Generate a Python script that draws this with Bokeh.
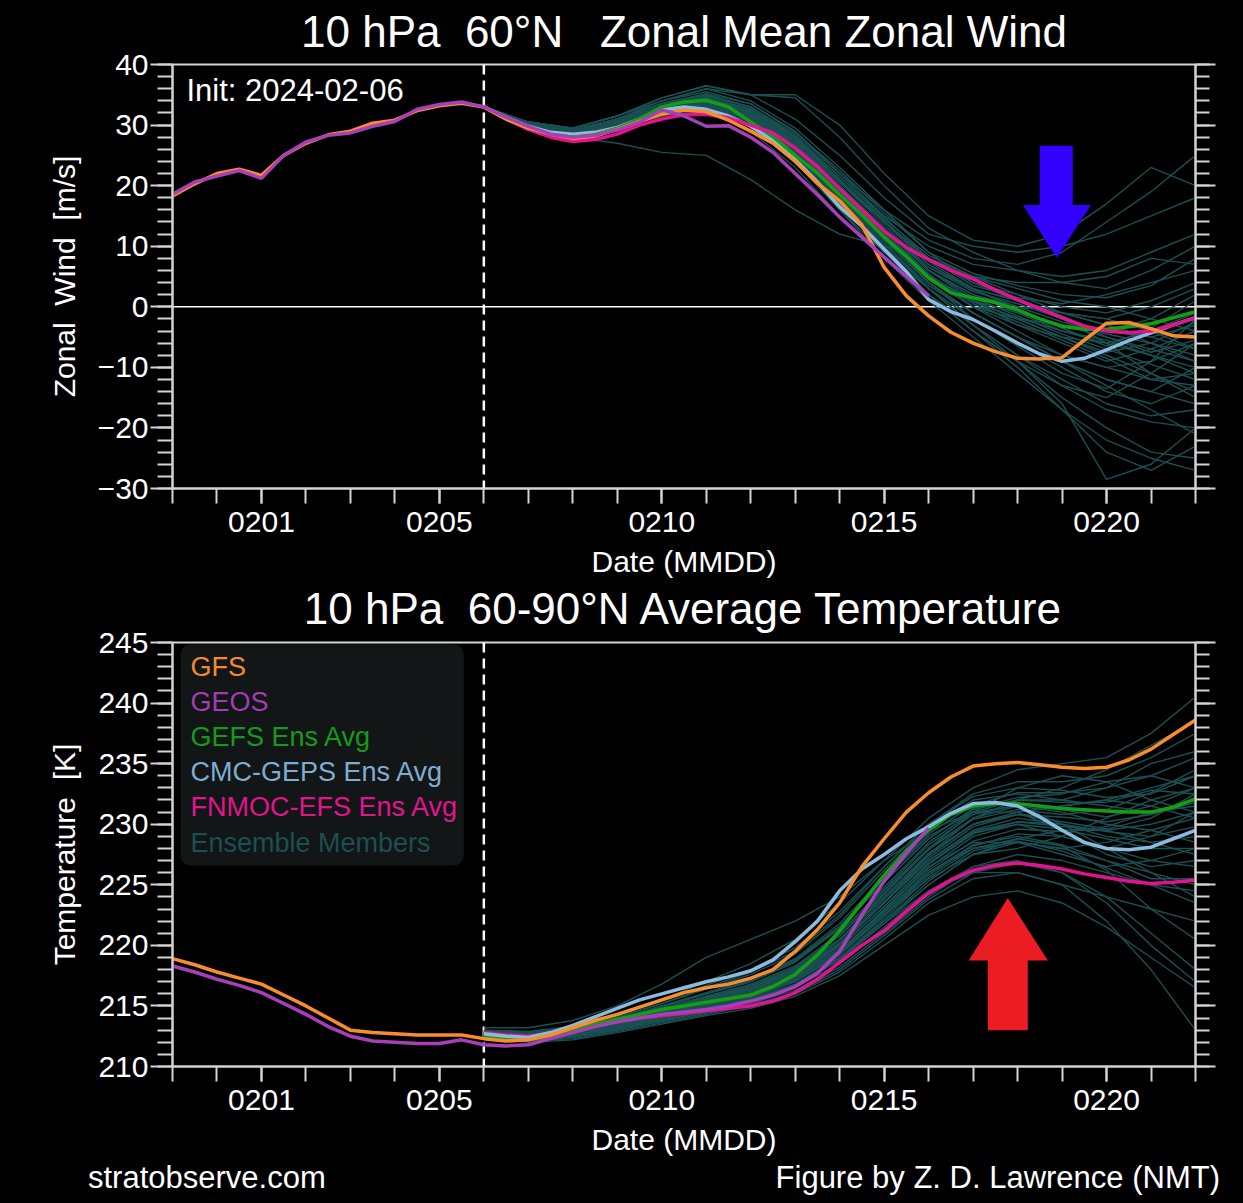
import numpy as np
from bokeh.plotting import figure
from bokeh.models import (Range1d, FixedTicker, LinearAxis, Span, Label, BoxAnnotation, PolyAnnotation,
                          InlineStyleSheet, Div)
from bokeh.layouts import column
from bokeh.embed import file_html
from bokeh.resources import INLINE

FONT = "Liberation Sans"
AXC = "#d4d4d4"
W = 1243
SHIFT = 6    # whole layout moved up so the top title can sit higher above its frame
SHIFT2 = 10  # lower panel (and footer) moved up further so its title can sit higher above its frame
ROOT_SHEET = InlineStyleSheet(css=":host { background-color: #000000 !important; transform: translateY(-%dpx); }" % SHIFT)
P1_SHEET = InlineStyleSheet(css=":host { background-color: #000000 !important; z-index: 2; }")
P2_SHEET = InlineStyleSheet(css=":host { background-color: #000000 !important; z-index: 1; transform: translateY(-%dpx); }" % SHIFT2)
FOOT_SHEET = InlineStyleSheet(css=":host { background-color: #000000 !important; transform: translateY(-%dpx); }" % SHIFT2)

# ---------------- time axis: days after 2024-02-01 (0130 = -2, 0222 = 21)
x_start, x_end = -2, 21
init_day = 5
tick_days = [0, 4, 9, 14, 19]
tick_labels = ["0201", "0205", "0210", "0215", "0220"]
day_ticks = list(range(-2, 22))
an_days = np.arange(-2, 5.01, 0.5)      # analysis, 12-hourly
fc_days = np.arange(5, 21.01, 0.5)      # forecast, 12-hourly
geos_days = np.arange(5, 15.01, 0.5)    # GEOS forecast ends 0216
mem_days = np.arange(5, 22, 1)          # ensemble members, daily

# ---------------- zonal wind [m/s]
gfs_w_an = [18.3, 20.3, 22.0, 22.7, 21.7, 25.0, 27.0, 28.4, 29.0, 30.3, 30.8, 32.4, 33.2, 33.6, 33.0]
geos_w_an = [18.6, 20.6, 21.6, 22.5, 21.2, 25.0, 27.2, 28.3, 28.7, 29.8, 30.6, 32.6, 33.4, 33.8, 33.0]
gfs_w = [33.0, 31.0, 29.5, 28.5, 27.8, 28.2, 29.3, 30.6, 31.8, 32.5, 32.2, 30.8, 29.0, 27.0, 24.0, 20.4,
         17.5, 13.5, 6.5, 1.8, -1.5, -4.2, -6.0, -7.4, -8.5, -8.6, -8.4, -5.5, -2.7, -2.6, -3.6, -4.8, -5.0]
geos_w = [33.0, 31.3, 29.8, 28.5, 28.0, 28.3, 29.2, 30.5, 32.5, 31.5, 29.8, 29.9, 28.0, 25.5, 22.0, 18.5,
          14.8, 11.5, 8.2, 5.0, 1.8]
gefs_w = [33.0, 31.0, 29.5, 28.5, 28.0, 28.4, 29.5, 31.0, 33.0, 33.8, 34.1, 33.0, 30.5, 28.1, 25.0, 22.1,
          18.5, 15.2, 11.5, 8.3, 4.8, 2.3, 1.5, 0.7, -0.5, -2.0, -3.2, -3.7, -3.7, -3.3, -2.8, -1.8, -0.8]
cmc_w = [33.0, 31.3, 29.8, 28.8, 28.5, 28.8, 29.6, 31.0, 32.5, 33.0, 32.6, 31.5, 29.8, 27.5, 24.3, 20.6,
         16.5, 13.3, 9.5, 5.8, 1.2, -0.8, -2.1, -4.0, -6.0, -7.8, -9.0, -8.5, -7.1, -5.6, -4.3, -3.0, -1.8]
fnmoc_w = [33.0, 31.0, 29.3, 28.0, 27.3, 27.6, 28.5, 30.0, 31.0, 31.7, 31.8, 31.2, 30.0, 28.7, 26.2, 23.1,
           19.5, 16.0, 12.5, 9.8, 7.8, 6.0, 4.6, 2.8, 1.2, -0.3, -1.8, -3.2, -4.0, -4.3, -4.0, -3.0, -1.8]
wind_members = [
    [33, 30.0, 28.5, 30.0, 32.5, 34.0, 32.0, 27.0, 20.0, 13.0, 6.0, 2.0, -1.0, -4.0, -6.0, -8.0, -10.0],
    [33, 30.5, 29.0, 31.0, 34.0, 36.0, 35.0, 31.0, 25.0, 18.0, 12.0, 10.0, 9.0, 10.0, 12.0, 15.0, 18.0],
    [33, 29.5, 28.0, 29.5, 31.5, 32.5, 29.0, 23.0, 15.0, 8.0, 2.0, -3.0, -8.0, -13.0, -17.0, -19.0, -20.0],
    [33, 30.0, 29.0, 30.5, 32.5, 33.5, 31.0, 25.0, 18.0, 11.0, 4.0, -2.0, -6.0, -10.0, -14.0, -16.0, -13.0],
    [33, 30.0, 29.0, 31.0, 33.5, 34.5, 32.5, 28.0, 21.0, 14.0, 8.0, 5.0, 3.0, 1.0, 0.0, -2.0, -4.0],
    [33, 29.5, 28.0, 27.0, 25.5, 25.0, 21.0, 16.0, 12.0, 10.0, 8.0, 5.0, 2.0, -1.0, -3.0, -5.0, -7.0],
    [33, 30.5, 29.5, 31.5, 34.5, 36.5, 35.0, 34.5, 28.0, 20.0, 13.0, 9.0, 6.0, 4.0, 3.0, 6.0, 10.0],
    [33, 30.0, 28.5, 30.0, 32.0, 33.0, 30.0, 24.0, 16.0, 8.0, 1.0, -5.0, -11.0, -17.0, -22.0, -25.0, -27.0],
    [33, 30.0, 29.0, 30.5, 33.0, 34.0, 31.5, 26.5, 19.5, 12.5, 5.5, 0.0, -4.0, -8.0, -10.0, -9.0, -6.0],
    [33, 29.5, 28.5, 29.5, 31.5, 33.0, 30.5, 25.0, 17.0, 9.0, 2.0, -4.0, -9.0, -15.0, -20.0, -24.0, -25.0],
    [33, 30.0, 29.0, 30.5, 33.0, 34.5, 32.5, 27.5, 21.0, 14.0, 7.0, 3.0, 1.0, -1.0, -2.0, 0.0, 3.0],
    [33, 30.0, 28.5, 29.5, 31.5, 33.0, 31.0, 26.0, 19.0, 12.0, 5.0, 1.0, -2.0, -5.0, -8.0, -11.0, -14.0],
    [33, 30.5, 29.5, 31.5, 34.0, 35.5, 33.5, 29.0, 22.0, 15.0, 10.0, 7.0, 6.0, 5.0, 6.0, 9.0, 12.0],
    [33, 29.5, 28.0, 29.0, 31.0, 32.5, 30.0, 24.5, 17.0, 10.0, 3.0, -3.0, -8.0, -12.0, -16.0, -18.0, -17.0],
    [33, 30.0, 29.0, 30.5, 33.0, 34.0, 31.5, 26.0, 19.0, 12.0, 4.0, -1.0, -5.0, -9.0, -12.0, -14.0, -16.0],
    [33, 30.0, 29.0, 30.0, 32.5, 33.5, 31.0, 26.0, 19.5, 13.0, 6.0, 1.0, -3.0, -5.0, -6.0, -4.0, -1.0],
    [33, 30.0, 28.5, 30.0, 32.0, 33.5, 31.0, 25.5, 18.0, 10.5, 3.5, -1.0, -5.0, -9.0, -13.0, -17.0, -21.0],
    [33, 30.5, 29.0, 31.0, 33.5, 35.0, 33.0, 28.0, 21.5, 14.5, 8.5, 5.0, 4.0, 4.0, 5.0, 8.0, 7.0],
    [33, 30.0, 29.0, 30.0, 32.0, 33.0, 30.5, 25.0, 18.0, 11.0, 5.0, 1.0, -1.0, -3.0, -5.0, -7.0, -9.0],
    [33, 29.5, 28.5, 29.5, 31.5, 33.0, 30.5, 25.0, 17.5, 9.5, 2.0, -4.0, -10.0, -17.0, -24.0, -27.0, -23.0],
    [33, 30.0, 29.0, 31.0, 33.5, 35.0, 33.0, 28.5, 22.0, 16.0, 11.0, 8.0, 7.0, 9.0, 14.0, 19.0, 25.0],
    [33, 30.0, 28.5, 29.5, 31.5, 33.0, 31.0, 26.0, 18.5, 11.0, 4.0, -1.0, -5.0, -8.0, -10.0, -12.0, -11.0],
    [33, 30.0, 29.0, 30.5, 32.5, 34.0, 32.0, 27.0, 20.0, 13.0, 6.0, 2.0, 0.0, -1.0, -2.0, -4.0, -7.0],
    [33, 30.5, 29.5, 31.5, 34.0, 36.0, 34.0, 29.5, 23.0, 16.0, 9.0, 4.0, 1.0, -1.0, -3.0, -6.0, -9.0],
    [33, 29.5, 28.0, 29.0, 31.0, 32.5, 30.0, 24.0, 16.0, 9.0, 3.0, -3.0, -9.0, -16.0, -28.5, -26.0, -20.0],
    [33, 30.0, 29.0, 30.5, 33.0, 34.5, 32.0, 27.0, 20.5, 14.0, 8.0, 4.0, 2.0, 0.0, -1.0, 1.0, 4.0],
    [33, 30.0, 28.5, 30.0, 32.0, 33.5, 31.5, 26.0, 18.5, 11.0, 4.0, -1.0, -5.0, -9.0, -12.0, -14.0, -10.0],
    [33, 30.0, 29.0, 30.5, 33.0, 34.5, 32.5, 27.5, 21.0, 14.0, 8.0, 4.0, 1.0, -2.0, -6.0, -11.0, -15.0],
    [33, 30.0, 29.0, 30.0, 32.5, 34.0, 31.5, 26.5, 19.5, 12.0, 5.0, 0.0, -2.0, -3.0, -4.0, -2.0, 2.0],
    [33, 30.0, 28.5, 29.5, 31.5, 33.0, 31.0, 25.5, 18.0, 10.0, 2.0, -4.0, -9.0, -13.0, -15.0, -11.0, -6.0],
    [33, 30.5, 29.5, 31.5, 34.5, 36.5, 35.0, 35.0, 30.0, 22.0, 15.0, 11.0, 10.0, 12.0, 17.0, 23.0, 20.0],
    [33, 30.2, 28.8, 30.2, 32.8, 34.2, 32.2, 27.2, 20.5, 13.5, 6.5, 2.5, 0.5, -2.0, -4.0, -5.0, -3.0],
    [33, 29.8, 28.3, 29.8, 32.0, 33.2, 31.0, 25.8, 18.8, 11.5, 4.5, 0.0, -3.0, -6.0, -9.0, -7.0, -4.0],
    [33, 30.3, 29.2, 30.8, 33.2, 34.8, 33.0, 28.2, 21.5, 14.8, 8.0, 3.5, 1.5, 0.5, 2.0, 4.0, 6.0],
    [33, 30.0, 28.7, 30.0, 32.3, 33.6, 31.4, 26.4, 19.2, 12.0, 5.0, 0.5, -2.5, -5.5, -8.5, -12.0, -13.0],
    [33, 30.1, 29.0, 30.6, 33.0, 34.3, 32.0, 27.0, 20.0, 13.0, 6.5, 3.0, 1.0, -1.5, -5.0, -7.5, -5.5],
    [33, 29.7, 28.4, 29.6, 31.8, 33.0, 30.6, 25.2, 17.8, 10.5, 3.0, -2.0, -6.5, -11.0, -13.5, -9.0, -2.0],
    [33, 30.4, 29.3, 31.0, 33.6, 35.2, 33.5, 28.8, 22.5, 15.5, 9.0, 5.5, 3.5, 2.0, 1.5, 3.5, 8.0],
    [33, 30.0, 28.9, 30.3, 32.6, 34.0, 31.8, 26.8, 19.8, 12.8, 6.0, 1.5, -1.5, -4.5, -7.0, -9.5, -12.0],
    [33, 30.2, 29.1, 30.7, 33.1, 34.6, 32.7, 27.8, 21.0, 14.2, 7.5, 3.0, -0.5, -3.5, -6.5, -3.5, 1.0],
    [33, 29.9, 28.6, 30.0, 32.2, 33.4, 31.2, 26.2, 19.0, 11.8, 4.8, 0.8, -1.8, -4.0, -5.5, -8.0, -11.0],
    [33, 30.3, 29.0, 30.5, 32.9, 34.4, 32.4, 27.5, 20.8, 14.0, 7.0, 2.8, 0.0, -2.5, -4.5, -6.0, -8.0],
    [33, 30.0, 28.8, 30.1, 32.4, 33.8, 31.6, 26.6, 19.6, 12.4, 5.2, 1.0, -2.0, -5.0, -7.5, -6.0, -2.5],
]

# ---------------- 60-90N temperature [K]
gfs_t_an = [218.9, 218.4, 217.8, 217.3, 216.8, 215.9, 215.0, 214.0, 213.0, 212.8, 212.7, 212.6, 212.6, 212.6, 212.3]
geos_t_an = [218.3, 217.8, 217.2, 216.7, 216.1, 215.2, 214.3, 213.3, 212.5, 212.1, 212.0, 211.9, 211.9, 212.2, 211.8]
gfs_t = [212.3, 212.1, 212.2, 212.6, 213.2, 213.8, 214.3, 214.9, 215.5, 216.1, 216.5, 216.8, 217.3, 218.0, 219.5, 221.3,
         223.5, 226.5, 228.8, 231.0, 232.6, 233.9, 234.8, 235.0, 235.1, 234.9, 234.7, 234.6, 234.7, 235.3, 236.2, 237.4, 238.6]
geos_t = [211.9, 211.7, 211.8, 212.3, 212.8, 213.3, 213.7, 214.0, 214.3, 214.5, 214.7, 215.0, 215.4, 215.9, 216.6, 217.7,
          219.5, 222.5, 225.3, 227.6, 229.7]
gefs_t = [212.5, 212.3, 212.2, 212.5, 213.0, 213.5, 213.9, 214.3, 214.7, 215.0, 215.3, 215.6, 215.9, 216.6, 217.6, 219.2,
          221.2, 223.5, 225.8, 227.8, 229.5, 230.8, 231.5, 231.7, 231.7, 231.5, 231.3, 231.2, 231.1, 231.0, 231.0, 231.4, 232.1]
cmc_t = [212.7, 212.5, 212.4, 212.8, 213.4, 214.1, 214.8, 215.5, 216.0, 216.5, 217.0, 217.4, 217.9, 218.8, 220.3, 222.0,
         224.5, 226.3, 227.5, 228.8, 229.8, 230.9, 231.7, 231.8, 231.5, 230.6, 229.5, 228.5, 228.0, 227.9, 228.1, 228.8, 229.5]
fnmoc_t = [212.8, 212.6, 212.5, 212.7, 213.0, 213.4, 213.7, 214.0, 214.2, 214.4, 214.6, 214.8, 215.0, 215.4, 216.1, 217.2,
           218.6, 220.0, 221.2, 222.8, 224.3, 225.4, 226.2, 226.6, 226.8, 226.6, 226.3, 225.9, 225.6, 225.3, 225.1, 225.2, 225.4]
temp_members = [
    [212.8, 212.6, 212.9, 213.6, 214.5, 215.5, 216.5, 218.0, 220.5, 224.0, 227.5, 230.0, 231.0, 231.5, 232.0, 233.0, 234.0],
    [212.5, 212.2, 212.4, 213.0, 213.8, 214.6, 215.3, 216.5, 218.5, 221.5, 224.5, 226.0, 226.0, 225.0, 224.0, 223.0, 222.0],
    [213.0, 212.8, 213.2, 214.0, 215.2, 216.5, 217.8, 219.5, 222.5, 226.5, 230.0, 232.5, 233.5, 233.5, 234.0, 235.5, 237.5],
    [212.6, 212.3, 212.5, 213.2, 214.0, 214.8, 215.5, 216.8, 219.0, 222.0, 225.0, 227.5, 228.5, 228.0, 227.0, 226.0, 225.0],
    [212.7, 212.5, 212.8, 213.5, 214.5, 215.4, 216.3, 217.8, 220.2, 223.5, 227.0, 229.5, 230.5, 230.0, 229.0, 228.5, 229.0],
    [212.4, 212.0, 212.2, 212.8, 213.5, 214.2, 214.8, 215.8, 217.5, 220.0, 222.5, 224.0, 224.5, 223.5, 221.5, 219.0, 216.5],
    [212.9, 212.8, 213.3, 214.2, 215.5, 217.0, 218.5, 220.5, 223.5, 227.0, 230.5, 233.0, 234.5, 235.0, 235.5, 237.5, 240.5],
    [212.6, 212.4, 212.6, 213.3, 214.2, 215.0, 215.8, 217.0, 219.5, 223.0, 226.5, 228.5, 228.5, 227.5, 226.5, 227.0, 228.0],
    [212.8, 212.7, 213.0, 213.8, 214.8, 215.8, 216.8, 218.3, 221.0, 224.8, 228.5, 231.0, 232.0, 232.0, 231.5, 231.0, 231.5],
    [212.5, 212.3, 212.5, 213.1, 213.9, 214.7, 215.4, 216.6, 218.8, 221.8, 224.5, 226.5, 227.0, 226.0, 224.0, 221.0, 218.0],
    [213.2, 213.2, 213.8, 215.0, 216.8, 219.0, 220.5, 222.0, 224.0, 227.0, 229.5, 231.0, 231.5, 230.0, 228.0, 226.0, 224.0],
    [212.7, 212.5, 212.8, 213.4, 214.3, 215.2, 216.0, 217.5, 220.0, 223.5, 227.5, 230.5, 232.0, 233.0, 234.5, 236.5, 238.5],
    [212.6, 212.4, 212.7, 213.3, 214.1, 214.9, 215.7, 217.0, 219.3, 222.5, 225.5, 227.5, 228.0, 229.0, 230.5, 232.0, 233.0],
    [212.9, 212.7, 213.1, 213.9, 215.0, 216.0, 217.0, 218.7, 221.5, 225.5, 229.0, 231.0, 231.0, 229.5, 227.5, 226.5, 227.0],
    [212.4, 212.1, 212.3, 212.9, 213.6, 214.3, 215.0, 216.0, 217.8, 220.5, 223.5, 225.5, 226.0, 225.0, 222.0, 218.0, 213.0],
    [212.7, 212.6, 212.9, 213.6, 214.6, 215.6, 216.6, 218.0, 220.8, 224.5, 228.0, 230.5, 231.5, 231.0, 230.0, 229.5, 230.5],
    [212.8, 212.6, 212.9, 213.7, 214.7, 215.7, 216.7, 218.2, 220.8, 224.3, 228.0, 231.0, 233.0, 234.0, 233.5, 232.0, 231.0],
    [212.5, 212.3, 212.5, 213.1, 213.8, 214.5, 215.2, 216.3, 218.2, 221.0, 224.0, 226.5, 227.5, 227.0, 226.0, 225.0, 224.5],
    [212.6, 212.5, 212.8, 213.5, 214.4, 215.3, 216.1, 217.4, 219.8, 223.2, 226.8, 229.3, 230.0, 229.0, 228.0, 229.0, 231.0],
    [212.9, 212.8, 213.2, 214.1, 215.2, 216.4, 217.6, 219.3, 222.3, 226.2, 229.8, 232.0, 232.5, 232.0, 233.0, 235.0, 236.0],
    [212.7, 212.4, 212.7, 213.4, 214.3, 215.2, 216.0, 217.3, 219.6, 222.8, 226.0, 228.0, 228.5, 228.0, 228.5, 229.5, 228.5],
    [212.5, 212.2, 212.4, 213.0, 213.7, 214.4, 215.1, 216.1, 218.0, 220.8, 223.8, 226.0, 226.8, 226.0, 223.5, 220.0, 217.0],
    [212.8, 212.6, 213.0, 213.8, 214.9, 216.0, 217.1, 218.8, 221.6, 225.2, 228.8, 231.3, 232.2, 232.5, 233.5, 234.0, 233.0],
    [212.6, 212.4, 212.7, 213.3, 214.2, 215.1, 215.9, 217.1, 219.3, 222.5, 226.0, 228.3, 229.0, 228.3, 227.0, 225.5, 225.5],
    [212.7, 212.5, 212.8, 213.5, 214.5, 215.5, 216.4, 217.8, 220.4, 224.0, 227.6, 230.0, 230.8, 230.2, 229.6, 230.5, 232.5],
    [212.6, 212.3, 212.6, 213.2, 214.0, 214.8, 215.6, 216.8, 219.0, 222.2, 225.6, 228.0, 228.8, 228.2, 226.2, 223.0, 220.5],
    [213.0, 212.9, 213.3, 214.2, 215.4, 216.7, 218.0, 219.8, 222.8, 226.5, 230.0, 232.3, 233.0, 232.8, 232.2, 232.5, 234.0],
    [212.5, 212.3, 212.5, 213.2, 214.0, 214.8, 215.5, 216.7, 218.8, 221.8, 225.0, 227.5, 228.8, 229.5, 229.5, 228.5, 227.5],
    [212.7, 212.5, 212.8, 213.5, 214.4, 215.3, 216.2, 217.6, 220.1, 223.6, 227.2, 229.8, 230.8, 230.6, 230.2, 230.8, 231.8],
    [212.6, 212.4, 212.6, 213.3, 214.2, 215.0, 215.9, 217.2, 219.6, 222.9, 226.4, 229.0, 230.0, 229.6, 228.8, 228.0, 228.0],
    [212.8, 212.6, 212.9, 213.7, 214.7, 215.7, 216.6, 218.1, 220.8, 224.6, 228.3, 230.8, 231.6, 231.2, 230.6, 231.5, 233.0],
    [212.5, 212.3, 212.6, 213.2, 214.1, 214.9, 215.7, 217.0, 219.2, 222.4, 225.8, 228.2, 229.2, 229.0, 228.0, 227.0, 226.5],
    [212.7, 212.6, 212.9, 213.6, 214.6, 215.6, 216.5, 217.9, 220.5, 224.2, 227.9, 230.4, 231.2, 230.8, 231.2, 232.6, 234.5],
    [212.6, 212.4, 212.7, 213.4, 214.3, 215.2, 216.0, 217.3, 219.8, 223.2, 226.7, 229.2, 230.2, 230.0, 229.4, 229.0, 229.8],
    [212.8, 212.7, 213.0, 213.8, 214.9, 216.0, 217.0, 218.6, 221.4, 225.2, 228.8, 231.2, 232.0, 231.8, 231.8, 232.8, 232.5],
    [212.5, 212.3, 212.5, 213.1, 213.9, 214.7, 215.5, 216.7, 218.9, 222.0, 225.3, 227.8, 228.6, 227.8, 226.4, 225.0, 223.5],
    [212.7, 212.5, 212.8, 213.5, 214.5, 215.4, 216.3, 217.7, 220.2, 223.8, 227.4, 230.0, 231.0, 231.5, 232.0, 231.5, 230.5],
    [212.6, 212.5, 212.8, 213.4, 214.4, 215.3, 216.1, 217.5, 220.0, 223.5, 227.0, 229.4, 230.2, 229.8, 229.5, 230.0, 231.0],
    [212.9, 212.7, 213.1, 213.9, 215.0, 216.1, 217.2, 218.9, 221.8, 225.6, 229.2, 231.6, 232.6, 232.6, 233.0, 234.0, 235.5],
    [212.6, 212.4, 212.6, 213.2, 214.1, 215.0, 215.8, 217.1, 219.4, 222.7, 226.2, 228.6, 229.6, 229.4, 229.8, 231.0, 232.0],
]

# ---------------- labels / colours
NB = "\u00a0"
wind_title = "10 hPa" + NB + " 60°N" + NB + " " + NB + "Zonal Mean Zonal Wind"
temp_title = "10 hPa" + NB + " 60-90°N Average Temperature"
wind_ylabel = "Zonal" + NB + " Wind" + NB + " [m/s]"
temp_ylabel = "Temperature" + NB + " [K]"
init_text = "Init: 2024-02-06"
footer_left = "stratobserve.com"
footer_right = "Figure by Z. D. Lawrence (NMT)"
legend_names = ["GFS", "GEOS", "GEFS Ens Avg", "CMC-GEPS Ens Avg", "FNMOC-EFS Ens Avg", "Ensemble Members"]
legend_colors = ["#f38a30", "#a23db3", "#169a1c", "#7fadd2", "#e0158e", "#1b4f51"]
C_GFS, C_GEOS, C_GEFS, C_CMC, C_FNMOC, C_MEM = "#f98d2e", "#a63fb8", "#12a012", "#8dbbe0", "#e3128f", "#1b5053"
wind_ticks = list(range(-30, 41, 10))
wind_minor = list(range(-30, 41, 2))
temp_ticks = list(range(210, 246, 5))
temp_minor = list(range(210, 246, 1))


def style_axis(ax, major_out, minor_out, size="30px"):
    ax.axis_line_color = AXC
    ax.axis_line_width = 2
    ax.major_tick_line_color = AXC
    ax.major_tick_line_width = 2
    ax.minor_tick_line_color = AXC
    ax.minor_tick_line_width = 2
    ax.major_tick_in = 0
    ax.minor_tick_in = 0
    ax.major_tick_out = major_out
    ax.minor_tick_out = minor_out
    ax.major_label_text_color = "white"
    ax.major_label_text_font = FONT
    ax.major_label_text_font_size = size
    ax.axis_label_text_color = "white"
    ax.axis_label_text_font = FONT
    ax.axis_label_text_font_style = "normal"


def build(height, top, bottom, yr, yticks, yminor, ylabel, title, title_standoff, sheet):
    p = figure(width=W, height=height, x_range=Range1d(x_start, x_end), y_range=Range1d(*yr),
               output_backend="svg", toolbar_location=None,
               min_border_left=172, min_border_right=48, min_border_top=top, min_border_bottom=bottom,
               background_fill_color="black", border_fill_color="black",
               outline_line_color=AXC, outline_line_width=2, stylesheets=[sheet])
    p.xgrid.visible = False
    p.ygrid.visible = False

    p.title.text = title
    p.title.align = "center"
    p.title.text_color = "white"
    p.title.text_font = FONT
    p.title.text_font_size = "44px"
    p.title.text_font_style = "normal"
    p.title.standoff = title_standoff

    xa = p.xaxis[0]
    xa.ticker = FixedTicker(ticks=tick_days, minor_ticks=day_ticks)
    xa.major_label_overrides = dict(zip(tick_days, tick_labels))
    style_axis(xa, 15, 15)
    xa.major_label_standoff = 8
    xa.axis_label = "Date (MMDD)"
    xa.axis_label_text_font_size = "30px"
    xa.axis_label_standoff = 10

    ya = p.yaxis[0]
    ya.ticker = FixedTicker(ticks=yticks, minor_ticks=yminor)
    ya.major_label_overrides = {v: str(v).replace("-", "\u2212") for v in yticks}
    style_axis(ya, 22, 15)
    ya.major_label_standoff = 2
    ya.axis_label = ylabel
    ya.axis_label_text_font_size = "30px"
    ya.axis_label_standoff = 14

    ra = LinearAxis(ticker=FixedTicker(ticks=yticks, minor_ticks=yminor))
    style_axis(ra, 20, 14, size="1px")
    ra.major_label_text_color = None
    ra.major_label_standoff = 0
    p.add_layout(ra, "right")
    return p


# ================= top panel: zonal wind
p1 = build(580 + SHIFT, 64 + SHIFT, 92, (-30, 40), wind_ticks, wind_minor, wind_ylabel, wind_title, 18, P1_SHEET)
p1.add_layout(Span(location=0, dimension="width", line_color="white", line_width=1.5, level="underlay"))
p1.add_layout(Span(location=init_day, dimension="height", line_color="white", line_width=2.5,
                   line_dash="10 6", level="underlay"))
p1.multi_line(xs=[list(mem_days)] * len(wind_members), ys=wind_members, line_color=C_MEM, line_width=1.4)
p1.line(list(fc_days), cmc_w, line_color=C_CMC, line_width=3.5)
p1.line(list(fc_days), gefs_w, line_color=C_GEFS, line_width=3.5)
p1.line(list(fc_days), fnmoc_w, line_color=C_FNMOC, line_width=3.5)
p1.line(list(an_days) + list(fc_days[1:]), gfs_w_an + gfs_w[1:], line_color=C_GFS, line_width=3.5)
p1.line(list(an_days) + list(geos_days[1:]), geos_w_an + geos_w[1:], line_color=C_GEOS, line_width=3.5)
p1.add_layout(Label(x=14, y=398, x_units="screen", y_units="screen", text=init_text,
                    text_baseline="middle", text_color="white", text_font=FONT, text_font_size="31px"))
p1.add_layout(PolyAnnotation(xs=[17.5, 18.24, 18.24, 18.65, 17.88, 17.12, 17.5],
                             ys=[26.6, 26.6, 16.8, 16.8, 8.1, 16.8, 16.8],
                             fill_color="#3200ff", fill_alpha=1, line_color=None))

# ================= bottom panel: temperature
p2 = build(578 + SHIFT2, 62 + SHIFT2, 92, (210, 245), temp_ticks, temp_minor, temp_ylabel, temp_title, 20, P2_SHEET)
p2.add_layout(Span(location=init_day, dimension="height", line_color="white", line_width=2.5,
                   line_dash="10 6", level="underlay"))
p2.multi_line(xs=[list(mem_days)] * len(temp_members), ys=temp_members, line_color=C_MEM, line_width=1.4)
p2.line(list(fc_days), fnmoc_t, line_color=C_FNMOC, line_width=3.5)
p2.line(list(fc_days), gefs_t, line_color=C_GEFS, line_width=3.5)
p2.line(list(fc_days), cmc_t, line_color=C_CMC, line_width=3.5)
p2.line(list(an_days) + list(geos_days[1:]), geos_t_an + geos_t[1:], line_color=C_GEOS, line_width=3.5)
p2.line(list(an_days) + list(fc_days[1:]), gfs_t_an + gfs_t[1:], line_color=C_GFS, line_width=3.5)

p2.add_layout(BoxAnnotation(left=-1.82, right=4.55, top=244.85, bottom=226.6, fill_color="#121616",
                            fill_alpha=1, line_color=None, border_radius=10))
for i, (name, col) in enumerate(zip(legend_names, legend_colors)):
    p2.add_layout(Label(x=18, y=400 - i * 35.2, x_units="screen", y_units="screen", text=name,
                        text_baseline="middle", text_color=col, text_font=FONT, text_font_size="27px"))
p2.add_layout(PolyAnnotation(xs=[16.78, 17.68, 17.23, 17.23, 16.33, 16.33, 15.9],
                             ys=[223.9, 218.75, 218.75, 213.0, 213.0, 218.75, 218.75],
                             fill_color="#ec1c24", fill_alpha=1, line_color=None))

# ================= footer (HTML text, spans beyond the plot frames)
footer_html = (
    '<div style="position:relative;width:1243px;height:42px;font-family:\'Liberation Sans\',Arial,sans-serif;'
    'font-size:31px;line-height:31px;color:#ffffff;">'
    '<span style="position:absolute;left:88px;top:4px;white-space:nowrap;">' + footer_left + '</span>'
    '<span style="position:absolute;right:23px;top:4px;white-space:nowrap;">' + footer_right + '</span>'
    '</div>'
)
footer = Div(text=footer_html, width=W, height=42, margin=(0, 0, 0, 0), stylesheets=[FOOT_SHEET])

layout = column(p1, p2, footer, spacing=0, stylesheets=[ROOT_SHEET])
html = file_html(layout, INLINE)
html = html.replace("<body>", "<body style=\"background-color:#000000;margin:0;overflow:hidden;\">", 1)
open("out.html", "w").write(html)
